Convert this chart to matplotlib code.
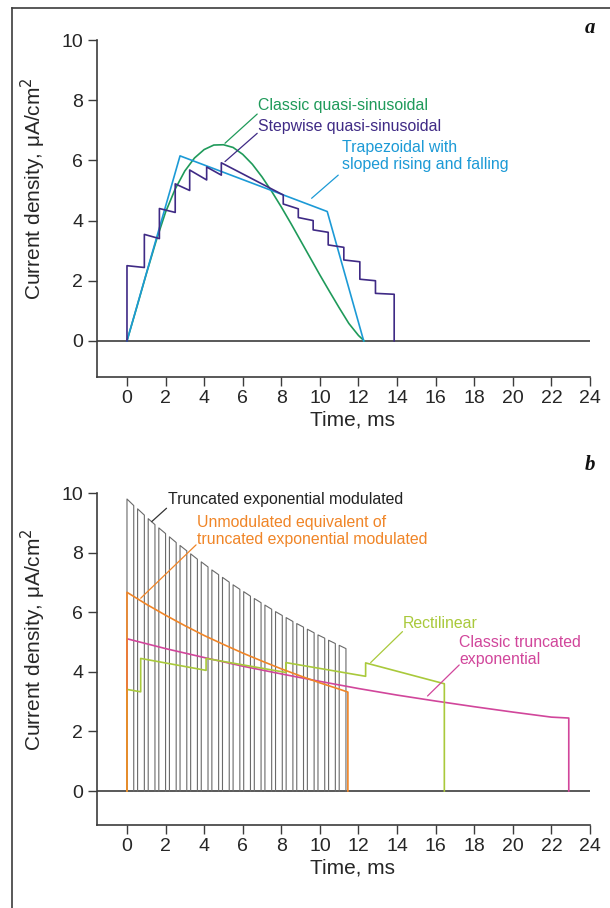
import matplotlib
matplotlib.use("Agg")
import matplotlib.pyplot as plt
from matplotlib.lines import Line2D

plt.rcParams['font.family'] = ['Liberation Sans', 'DejaVu Sans']

# ---------------- data: panel a ----------------
sine_t = [0, 0.5, 1.0, 1.5, 2.0, 2.5, 3.0, 3.5, 4.0, 4.5, 5.0, 5.5, 6.0, 6.5, 7.0, 7.5,
          8.0, 8.5, 9.0, 9.5, 10.0, 10.5, 11.0, 11.5, 12.0, 12.3]
sine_v = [0, 1.10, 2.22, 3.30, 4.28, 5.05, 5.65, 6.08, 6.36, 6.51, 6.52, 6.43, 6.20, 5.87,
          5.45, 4.97, 4.45, 3.90, 3.33, 2.76, 2.19, 1.64, 1.10, 0.58, 0.18, 0]

step_t = [0, 0, 0.90, 0.90, 1.68, 1.68, 2.50, 2.50, 3.25, 3.25, 4.13, 4.13, 4.89, 4.89,
          8.10, 8.10, 8.88, 8.88, 9.65, 9.65, 10.43, 10.43, 11.24, 11.24, 12.07, 12.07,
          12.88, 12.88, 13.85, 13.85]
step_v = [0, 2.50, 2.44, 3.54, 3.40, 4.40, 4.27, 5.22, 5.00, 5.68, 5.35, 5.78, 5.51, 5.92,
          4.85, 4.55, 4.39, 4.10, 4.00, 3.69, 3.61, 3.19, 3.11, 2.69, 2.63, 2.05,
          2.00, 1.58, 1.55, 0]

trap_t = [0, 2.75, 10.38, 12.27]
trap_v = [0, 6.15, 4.30, 0]

# ---------------- data: panel b ----------------
pulse_start = [0.00, 0.55, 1.10, 1.65, 2.20, 2.75, 3.30, 3.85, 4.40, 4.95, 5.50,
               6.05, 6.60, 7.15, 7.70, 8.25, 8.80, 9.35, 9.90, 10.45, 11.00]
pulse_end = [0.35, 0.90, 1.45, 2.00, 2.55, 3.10, 3.65, 4.20, 4.75, 5.30, 5.85,
             6.40, 6.95, 7.50, 8.05, 8.60, 9.15, 9.70, 10.25, 10.80, 11.35]
pulse_top_start = [9.80, 9.47, 9.14, 8.83, 8.53, 8.24, 7.96, 7.69, 7.42, 7.17, 6.92,
                   6.69, 6.46, 6.24, 6.02, 5.82, 5.62, 5.43, 5.24, 5.06, 4.89]
pulse_top_end = [9.58, 9.26, 8.94, 8.64, 8.34, 8.06, 7.78, 7.52, 7.26, 7.01, 6.77,
                 6.54, 6.32, 6.10, 5.89, 5.69, 5.50, 5.31, 5.13, 4.95, 4.78]

unmod_t = [0, 0, 1, 2, 3, 4, 5, 6, 7, 8, 9, 10, 11, 11.45, 11.45]
unmod_v = [0, 6.67, 6.27, 5.90, 5.55, 5.22, 4.92, 4.63, 4.36, 4.10, 3.86, 3.63, 3.42, 3.32, 0]

rect_t = [0, 0, 0.71, 0.71, 4.10, 4.10, 8.24, 8.24, 12.37, 12.37, 16.45, 16.45]
rect_v = [0, 3.41, 3.33, 4.45, 4.05, 4.45, 3.98, 4.31, 3.85, 4.30, 3.60, 0]

texp_t = [0, 0, 2, 4, 6, 8, 10, 12, 14, 16, 18, 20, 22, 22.9, 22.9]
texp_v = [0, 5.11, 4.78, 4.48, 4.19, 3.93, 3.68, 3.44, 3.22, 3.02, 2.83, 2.65, 2.48, 2.45, 0]

x_ticks = list(range(0, 25, 2))
y_ticks = list(range(0, 11, 2))

# ---------------- colours ----------------
C_SINE = '#1f9a5a'
C_STEP = '#3f2a85'
C_TRAP = '#1c9ad6'
C_PULSE = '#6a6a6a'
C_UNMOD = '#f08527'
C_RECT = '#a9c93b'
C_TEXP = '#d1469b'
C_AX = '#3c3c3c'
C_TXT = '#262626'

fig = plt.figure(figsize=(6.10, 9.08), dpi=100)

# outer frame
fig.add_artist(Line2D([11.5 / 610, 11.5 / 610], [0, 1 - 7.5 / 908], color=C_AX, lw=1.2,
                      transform=fig.transFigure))
fig.add_artist(Line2D([11.5 / 610, 1], [1 - 7.5 / 908, 1 - 7.5 / 908], color=C_AX, lw=1.2,
                      transform=fig.transFigure))


def style_axes(ax, ymin):
    ax.set_xlim(-1.58, 24)
    ax.set_ylim(ymin, 10)
    for s in ('top', 'right'):
        ax.spines[s].set_visible(False)
    for s in ('left', 'bottom'):
        ax.spines[s].set_color(C_AX)
        ax.spines[s].set_linewidth(1.2)
    ax.set_xticks(x_ticks)
    ax.set_yticks(y_ticks)
    ax.tick_params(direction='out', length=6.5, width=1.0, color=C_AX,
                   labelsize=14, labelcolor=C_TXT, pad=3)
    ax.axhline(0, color=C_AX, lw=1.2, zorder=1)
    ax.set_xlabel('Time, ms', fontsize=15, color=C_TXT)
    ax.xaxis.set_label_coords(0.518, -0.10)
    ax.set_ylabel('Current density, μA/cm$^2$', fontsize=15, color=C_TXT)
    ax.yaxis.set_label_coords(-0.098, 0.56)
    ax.set_facecolor('none')


def leader(ax, p0, p1, color):
    ax.annotate('', xy=p0, xytext=p1,
                arrowprops=dict(arrowstyle='-', color=color, lw=0.9, shrinkA=0, shrinkB=0))


FS = 11.4

# ---------------- panel a ----------------
ax1 = fig.add_axes([0.1582, 0.5848, 0.809, 0.3711])
style_axes(ax1, -1.2)
ax1.plot(sine_t, sine_v, color=C_SINE, lw=1.2, zorder=3)
ax1.plot(trap_t, trap_v, color=C_TRAP, lw=1.2, zorder=3)
ax1.plot(step_t, step_v, color=C_STEP, lw=1.2, zorder=4)

leader(ax1, (5.08, 6.57), (6.75, 7.54), C_SINE)
ax1.text(6.80, 7.82, 'Classic quasi-sinusoidal', color=C_SINE, fontsize=FS, va='center')
leader(ax1, (5.08, 5.96), (6.75, 6.90), C_STEP)
ax1.text(6.80, 7.14, 'Stepwise quasi-sinusoidal', color=C_STEP, fontsize=FS, va='center')
leader(ax1, (9.57, 4.74), (10.95, 5.51), C_TRAP)
ax1.text(11.17, 6.14, 'Trapezoidal with\nsloped rising and falling', color=C_TRAP,
         fontsize=FS, va='center', linespacing=1.15)

# ---------------- panel b ----------------
ax2 = fig.add_axes([0.1582, 0.0914, 0.809, 0.3656])
style_axes(ax2, -1.14)
for ts, te, vs, ve in zip(pulse_start, pulse_end, pulse_top_start, pulse_top_end):
    ax2.plot([ts, ts, te, te], [0, vs, ve, 0], color=C_PULSE, lw=0.8, zorder=2)
ax2.plot(texp_t, texp_v, color=C_TEXP, lw=1.2, zorder=3)
ax2.plot(rect_t, rect_v, color=C_RECT, lw=1.2, zorder=3)
ax2.plot(unmod_t, unmod_v, color=C_UNMOD, lw=1.2, zorder=4)

leader(ax2, (1.28, 9.04), (2.05, 9.49), '#333333')
ax2.text(2.12, 9.77, 'Truncated exponential modulated', color='#222222', fontsize=FS,
         va='center')
leader(ax2, (0.71, 6.47), (3.58, 8.26), C_UNMOD)
ax2.text(3.62, 8.73, 'Unmodulated equivalent of\ntruncated exponential modulated',
         color=C_UNMOD, fontsize=FS, va='center', linespacing=1.15)
leader(ax2, (12.63, 4.31), (14.28, 5.35), C_RECT)
ax2.text(14.28, 5.63, 'Rectilinear', color=C_RECT, fontsize=FS, va='center')
leader(ax2, (15.58, 3.19), (17.22, 4.23), C_TEXP)
ax2.text(17.22, 4.71, 'Classic truncated\nexponential', color=C_TEXP, fontsize=FS,
         va='center', linespacing=1.15)

# panel letters
fig.text(590 / 610, 1 - 28 / 908, 'a', fontsize=15, fontweight='bold', fontstyle='italic',
         family='Liberation Serif', ha='center', va='center', color='#111111')
fig.text(590 / 610, 1 - 465 / 908, 'b', fontsize=15, fontweight='bold', fontstyle='italic',
         family='Liberation Serif', ha='center', va='center', color='#111111')

fig.savefig('out.png', dpi=100)
